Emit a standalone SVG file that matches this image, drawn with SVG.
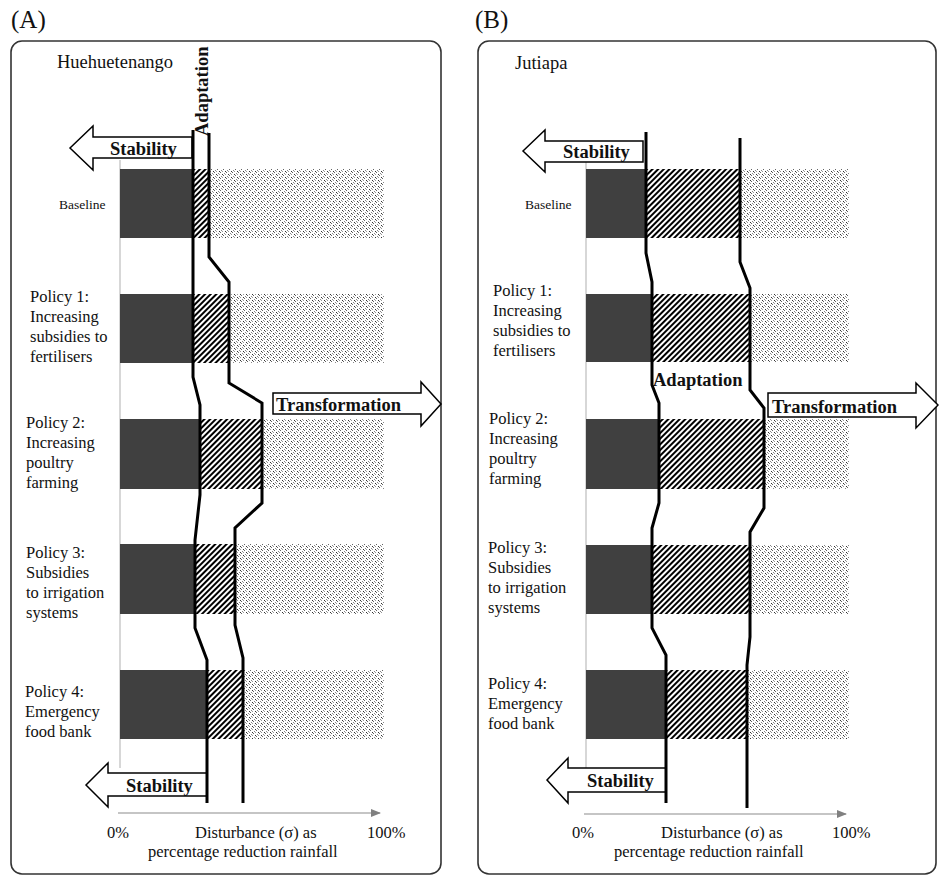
<svg xmlns="http://www.w3.org/2000/svg" width="939" height="877" viewBox="0 0 939 877" font-family="'Liberation Serif', 'DejaVu Serif', Times, serif">
<defs>
<pattern id="hatch" patternUnits="userSpaceOnUse" width="4" height="4" patternTransform="rotate(45)">
<rect width="4" height="4" fill="#fff"/>
<line x1="1" y1="0" x2="1" y2="4" stroke="#000" stroke-width="2"/>
</pattern>
<pattern id="dots" patternUnits="userSpaceOnUse" width="6" height="6">
<rect width="6" height="6" fill="#fff"/>
<rect x="0" y="0" width="1" height="1" fill="#333"/>
<rect x="1" y="1" width="1" height="1" fill="#666"/>
<rect x="3" y="3" width="1" height="1" fill="#333"/>
<rect x="4" y="4" width="1" height="1" fill="#666"/>
<rect x="3" y="0" width="1" height="1" fill="#999"/>
<rect x="0" y="3" width="1" height="1" fill="#999"/>
<rect x="5" y="2" width="1" height="1" fill="#888"/>
<rect x="2" y="5" width="1" height="1" fill="#888"/>
</pattern>
<marker id="axhead" markerWidth="10" markerHeight="8" refX="9" refY="4" orient="auto" markerUnits="userSpaceOnUse">
<path d="M0,0 L10,4 L0,8 z" fill="#808080"/>
</marker>
</defs>
<style>
.panel{fill:#fff;stroke:#333;stroke-width:1.6}
.dark{fill:#404040}
.hat{fill:url(#hatch)}
.dot{fill:url(#dots)}
.yax{stroke:#bdbdbd;stroke-width:1.2;fill:none}
.xax{stroke:#8c8c8c;stroke-width:1.2;fill:none}
.bd{fill:none;stroke:#000;stroke-width:3;stroke-linejoin:miter}
.blk{fill:#fff;stroke:#000;stroke-width:1.5}
text{font-family:'Liberation Serif','DejaVu Serif',Times,serif;fill:#111}
.lab{font-size:16.5px}
.small{font-size:13.5px}
.b{font-weight:bold;font-size:18.5px}
.title{font-size:18.5px}
.pl{font-size:25px}
</style>
<rect width="939" height="877" fill="#fff"/>

<g id="panelA">
<text class="pl" x="11" y="28">(A)</text>
<rect class="panel" x="11" y="41" width="430" height="833" rx="11"/>
<text class="title" x="57" y="68">Huehuetenango</text>
<line class="yax" x1="120" y1="160" x2="120" y2="768"/>
<line class="xax" x1="118" y1="813" x2="380" y2="813" marker-end="url(#axhead)"/>
<g id="A-axis-labels">
<text class="lab" x="107" y="838">0%</text>
<text class="lab" x="195" y="838">Disturbance (σ) as</text>
<text class="lab" x="148" y="857">percentage reduction rainfall</text>
<text class="lab" x="367" y="838">100%</text>
</g>
<g id="A-baseline">
<rect class="dark" x="120" y="169" width="73" height="69"/>
<rect class="hat" x="193" y="169" width="16" height="69"/>
<rect class="dot" x="210" y="169" width="174" height="69"/>
<text class="small" x="59" y="209">Baseline</text>
</g>
<g id="A-policy1">
<rect class="dark" x="120" y="294" width="72" height="69"/>
<rect class="hat" x="192" y="294" width="37" height="69"/>
<rect class="dot" x="229" y="294" width="155" height="69"/>
<text class="lab"><tspan x="30" y="302">Policy 1:</tspan><tspan x="30" y="322">Increasing</tspan><tspan x="30" y="342">subsidies to</tspan><tspan x="30" y="362">fertilisers</tspan></text>
</g>
<g id="A-policy2">
<rect class="dark" x="120" y="419" width="80" height="70"/>
<rect class="hat" x="200" y="419" width="62" height="70"/>
<rect class="dot" x="262" y="419" width="122" height="70"/>
<text class="lab"><tspan x="26" y="428">Policy 2:</tspan><tspan x="26" y="448">Increasing</tspan><tspan x="26" y="468">poultry</tspan><tspan x="26" y="488">farming</tspan></text>
</g>
<g id="A-policy3">
<rect class="dark" x="120" y="544" width="75" height="70"/>
<rect class="hat" x="195" y="544" width="40" height="70"/>
<rect class="dot" x="235" y="544" width="149" height="70"/>
<text class="lab"><tspan x="26" y="558">Policy 3:</tspan><tspan x="26" y="578">Subsidies</tspan><tspan x="26" y="598">to irrigation</tspan><tspan x="26" y="618">systems</tspan></text>
</g>
<g id="A-policy4">
<rect class="dark" x="120" y="670" width="87" height="69"/>
<rect class="hat" x="207" y="670" width="36" height="69"/>
<rect class="dot" x="243" y="670" width="141" height="69"/>
<text class="lab"><tspan x="25" y="697">Policy 4:</tspan><tspan x="25" y="717">Emergency</tspan><tspan x="25" y="737">food bank</tspan></text>
</g>
<g id="A-stability-top">
<polygon class="blk" points="70,148 93,126 93,137 192,137 192,158 93,158 93,170"/>
<text class="b" x="110" y="155">Stability</text>
</g>
<g id="A-stability-bottom">
<polygon class="blk" points="86,785 108,763 108,773 207,773 207,796 108,796 108,807"/>
<text class="b" x="126" y="792">Stability</text>
</g>
<g id="A-transformation">
<polygon class="blk" points="273,393 421,393 421,382 441,404 421,426 421,414 273,414"/>
<text class="b" x="276" y="411">Transformation</text>
</g>
<g id="A-adaptation">
<text class="b" transform="translate(208,136) rotate(-90)">Adaptation</text>
</g>
</g>

<g id="panelB">
<text class="pl" x="475" y="28">(B)</text>
<rect class="panel" x="478" y="41" width="458" height="833" rx="11"/>
<text class="title" x="515" y="69">Jutiapa</text>
<line class="yax" x1="586" y1="160" x2="586" y2="768"/>
<line class="xax" x1="584" y1="814" x2="846" y2="814" marker-end="url(#axhead)"/>
<g id="B-axis-labels">
<text class="lab" x="572" y="838">0%</text>
<text class="lab" x="661" y="838">Disturbance (σ) as</text>
<text class="lab" x="614" y="857">percentage reduction rainfall</text>
<text class="lab" x="832" y="838">100%</text>
</g>
<g id="B-baseline">
<rect class="dark" x="586" y="169" width="60" height="69"/>
<rect class="hat" x="646" y="169" width="94" height="69"/>
<rect class="dot" x="740" y="169" width="109" height="69"/>
<text class="small" x="525" y="209">Baseline</text>
</g>
<g id="B-policy1">
<rect class="dark" x="586" y="294" width="66" height="68"/>
<rect class="hat" x="652" y="294" width="98" height="68"/>
<rect class="dot" x="750" y="294" width="99" height="68"/>
<text class="lab"><tspan x="493" y="296">Policy 1:</tspan><tspan x="493" y="316">Increasing</tspan><tspan x="493" y="336">subsidies to</tspan><tspan x="493" y="356">fertilisers</tspan></text>
</g>
<g id="B-policy2">
<rect class="dark" x="586" y="419" width="73" height="70"/>
<rect class="hat" x="659" y="419" width="105" height="70"/>
<rect class="dot" x="764" y="419" width="85" height="70"/>
<text class="lab"><tspan x="489" y="424">Policy 2:</tspan><tspan x="489" y="444">Increasing</tspan><tspan x="489" y="464">poultry</tspan><tspan x="489" y="484">farming</tspan></text>
</g>
<g id="B-policy3">
<rect class="dark" x="586" y="545" width="66" height="69"/>
<rect class="hat" x="652" y="545" width="98" height="69"/>
<rect class="dot" x="750" y="545" width="99" height="69"/>
<text class="lab"><tspan x="488" y="553">Policy 3:</tspan><tspan x="488" y="573">Subsidies</tspan><tspan x="488" y="593">to irrigation</tspan><tspan x="488" y="613">systems</tspan></text>
</g>
<g id="B-policy4">
<rect class="dark" x="586" y="670" width="80" height="69"/>
<rect class="hat" x="666" y="670" width="81" height="69"/>
<rect class="dot" x="747" y="670" width="102" height="69"/>
<text class="lab"><tspan x="488" y="689">Policy 4:</tspan><tspan x="488" y="709">Emergency</tspan><tspan x="488" y="729">food bank</tspan></text>
</g>
<g id="B-stability-top">
<polygon class="blk" points="523,151 545,130 545,141 643,141 643,162 545,162 545,172"/>
<text class="b" x="563" y="158">Stability</text>
</g>
<g id="B-stability-bottom">
<polygon class="blk" points="547,780 568,758 568,768 666,768 666,792 568,792 568,803"/>
<text class="b" x="587" y="787">Stability</text>
</g>
<g id="B-transformation">
<polygon class="blk" points="768,393 916,393 916,383 938,405 916,428 916,417 768,417"/>
<text class="b" x="772" y="413">Transformation</text>
</g>
<g id="B-adaptation">
<text class="b" x="653" y="386">Adaptation</text>
</g>
</g>

<g id="connectors">
<polyline class="bd" points="193,130 193,377 200,405 200,495 195,540 195,628 207,660 207,803"/>
<polyline class="bd" points="209,133 209,257 229,282 229,383 262,403 262,503 235,528 235,625 243,658 243,803"/>
<polyline class="bd" points="646,132 646,253 652,282 652,385 659,403 659,503 652,528 652,628 666,655 666,803"/>
<polyline class="bd" points="740,138 740,262 750,288 750,390 764,408 764,508 750,532 750,637 747,665 747,808"/>
</g>
</svg>
